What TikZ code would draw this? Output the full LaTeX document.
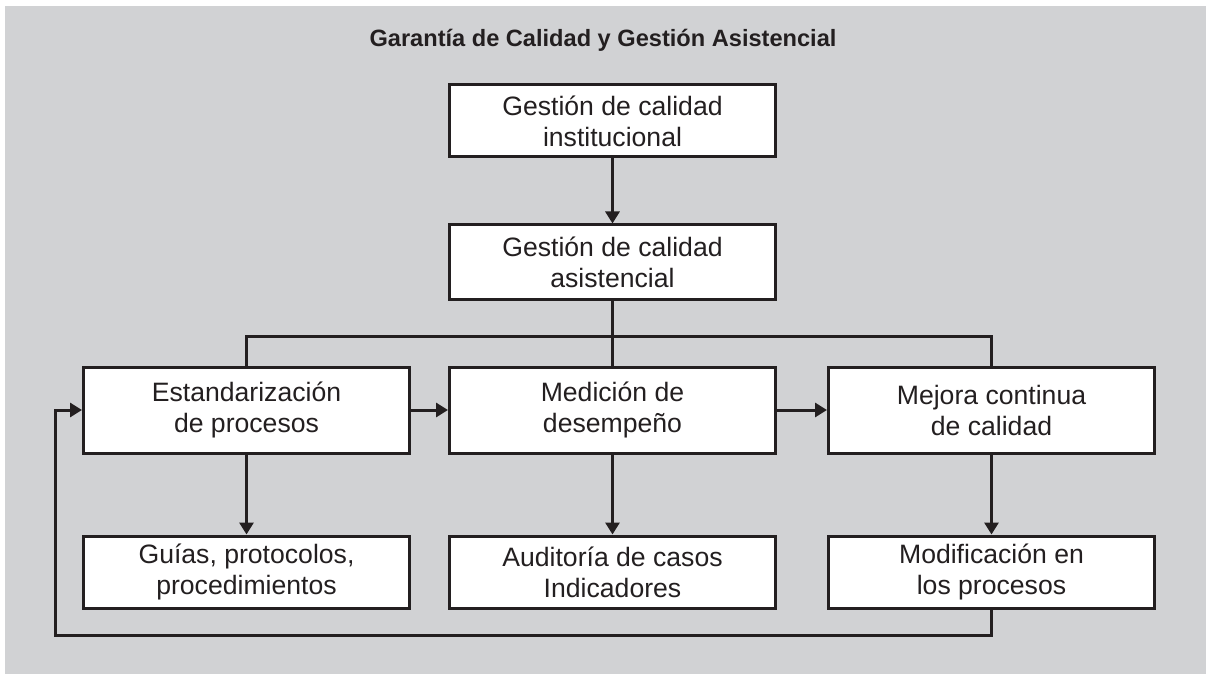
\documentclass[tikz,border=0pt]{standalone}
\usepackage{fontspec}
\setmainfont{Liberation Sans}
\usetikzlibrary{arrows.meta}
\definecolor{bggray}{HTML}{D1D2D4}
\definecolor{ink}{HTML}{231F20}
\begin{document}
\begin{tikzpicture}[x=0.5pt,y=-0.5pt,
  box/.style={draw=ink,fill=white,line width=1.5pt,minimum width=163pt,inner sep=0pt,align=center,
    font=\fontsize{13.3}{15.5}\selectfont,text=ink},
  conn/.style={draw=ink,line width=1.5pt},
  arr/.style={conn,-{Triangle[length=6pt,width=7pt]}}]
\useasboundingbox (0,0) rectangle (1206,674);
\fill[bggray] (5,6) rectangle (1206,674);
\node[font=\bfseries\fontsize{11.8}{14}\selectfont,text=ink] (title) at (603,40) {Garantía de Calidad y Gestión Asistencial};
\node[box,minimum height=36pt] (b1) at (612.5,121) {Gestión de calidad\\institucional};
\node[box,minimum height=37pt] (b2) at (612.5,262) {Gestión de calidad\\asistencial};
\node[box,minimum height=43pt] (b3) at (246.5,410) {Estandarización\\de procesos};
\node[box,minimum height=43pt] (b4) at (612.5,410) {Medición de\\desempeño};
\node[box,minimum height=43pt] (b5) at (991.5,410) {Mejora continua\\de calidad};
\node[box,minimum height=36pt] (b6) at (246.5,572) {Guías, protocolos,\\procedimientos};
\node[box,minimum height=36pt] (b7) at (612.5,572) {Auditoría de casos\\Indicadores};
\node[box,minimum height=36pt] (b8) at (991.5,572) {Modificación en\\los procesos};
\coordinate (bus) at (612.5,336);
\coordinate (fb) at (55,635);
\draw[arr] (b1) -- (b2);
\draw[conn] (b2) -- (b4);
\draw[conn,line join=miter] (b3.north) |- (bus) -| (b5.north);
\draw[arr] (b3) -- (b4);
\draw[arr] (b4) -- (b5);
\draw[arr] (b3) -- (b6);
\draw[arr] (b4) -- (b7);
\draw[arr] (b5) -- (b8);
\draw[arr,line join=miter] (b8.south) |- (fb) |- (b3.west);
\end{tikzpicture}
\end{document}
